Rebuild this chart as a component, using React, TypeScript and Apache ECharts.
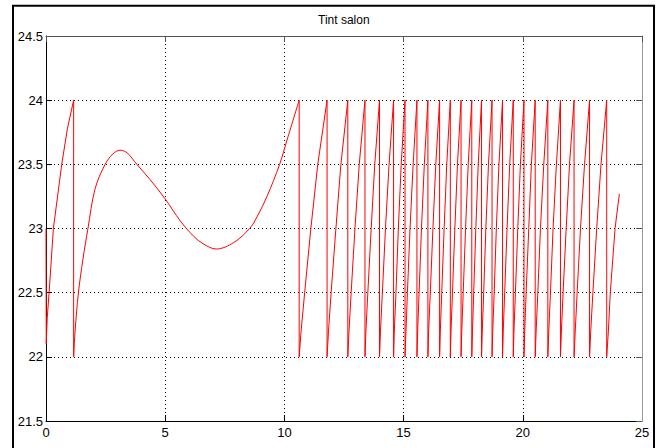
import React, { useEffect, useRef } from "react";
import * as echarts from "echarts";

// Title and tick values
const chartTitle = "Tint salon";
const xTicks = { min: 0, max: 25, step: 5 };
const yTicks = { min: 21.5, max: 24.5, step: 0.5 };

// Phase 1: first heating ramp
const phase1Time = [0, 0.01, 0.05, 0.13, 0.31, 0.66, 0.9, 1.16];
const phase1Tint = [23.0, 22.1, 22.3, 22.5, 23.0, 23.5, 23.78, 24.0];

// Phase 2: free evolution curve
const phase2Time = [1.16, 1.22, 1.36, 1.55, 1.76, 2.06, 2.48, 2.8, 3.1, 3.4, 3.81, 4.37, 5.0, 5.63, 6.19, 6.6, 7.14, 7.87, 8.54, 8.85, 9.27, 9.8, 10.11, 10.62];
const phase2Tint = [22.0, 22.2, 22.5, 22.76, 23.0, 23.31, 23.5, 23.58, 23.61, 23.59, 23.5, 23.38, 23.23, 23.06, 22.94, 22.88, 22.84, 22.89, 23.0, 23.09, 23.25, 23.5, 23.69, 24.0];

// Phase 3: sawtooth cycles; each row = times at which the ramp reaches the levels below
const rampLevels = [22, 22.2, 22.5, 23, 23.5, 24];
const sawCycles = [
  [10.62, 10.7, 10.85, 11.11, 11.4, 11.79],
  [11.79, 11.85, 11.96, 12.16, 12.37, 12.66],
  [12.66, 12.71, 12.8, 12.96, 13.14, 13.38],
  [13.38, 13.42, 13.5, 13.64, 13.79, 13.99],
  [13.99, 14.03, 14.11, 14.24, 14.39, 14.58],
  [14.58, 14.61, 14.68, 14.78, 14.9, 15.06],
  [15.06, 15.1, 15.16, 15.27, 15.4, 15.56],
  [15.56, 15.59, 15.65, 15.75, 15.87, 16.02],
  [16.02, 16.05, 16.12, 16.23, 16.35, 16.51],
  [16.51, 16.54, 16.6, 16.7, 16.81, 16.96],
  [16.96, 16.99, 17.05, 17.15, 17.26, 17.41],
  [17.41, 17.44, 17.5, 17.6, 17.71, 17.86],
  [17.86, 17.89, 17.94, 18.03, 18.13, 18.27],
  [18.27, 18.3, 18.36, 18.45, 18.56, 18.71],
  [18.71, 18.74, 18.8, 18.89, 19.0, 19.15],
  [19.15, 19.18, 19.24, 19.34, 19.45, 19.6],
  [19.6, 19.63, 19.69, 19.79, 19.9, 20.05],
  [20.05, 20.08, 20.14, 20.25, 20.36, 20.52],
  [20.52, 20.56, 20.63, 20.74, 20.88, 21.05],
  [21.05, 21.09, 21.16, 21.27, 21.41, 21.58],
  [21.58, 21.62, 21.69, 21.82, 21.96, 22.15],
  [22.15, 22.2, 22.28, 22.42, 22.59, 22.8],
  [22.8, 22.85, 22.94, 23.1, 23.28, 23.52],
];

// Phase 4: last, unfinished ramp
const phase4Time = [23.52, 23.59, 23.67, 23.87, 24.05];
const phase4Tint = [22.0, 22.2, 22.5, 23.0, 23.27];

const FONT = "'Liberation Sans', Arial, sans-serif";

function phase1Data(): number[][] {
  const pts: number[][] = phase1Time.map((t, i) => [t, phase1Tint[i]]);
  // drop to the start of phase 2
  pts.push([phase2Time[0], phase2Tint[0]]);
  return pts;
}

function phase2Data(): number[][] {
  return phase2Time.map((t, i) => [t, phase2Tint[i]]);
}

function sawData(): number[][] {
  const last = phase2Time.length - 1;
  const pts: number[][] = [[phase2Time[last], phase2Tint[last]]];
  sawCycles.forEach((row) => row.forEach((t, i) => pts.push([t, rampLevels[i]])));
  phase4Time.forEach((t, i) => pts.push([t, phase4Tint[i]]));
  return pts;
}

export default function App() {
  const ref = useRef<HTMLDivElement>(null);
  useEffect(() => {
    if (!ref.current) return;
    const chart = echarts.init(ref.current, null, { renderer: "svg" });
    const dotted = { color: "#000", width: 1, type: [1, 3] as any };
    const lineStyle = { color: "#ff0000", width: 1 };
    chart.setOption({
      animation: false,
      backgroundColor: "#fff",
      title: {
        text: chartTitle,
        left: 318,
        top: 14,
        padding: 0,
        textStyle: { fontFamily: FONT, fontSize: 12, fontWeight: "normal", color: "#000" },
      },
      grid: { left: 46, right: 15, top: 36, bottom: 27, containLabel: false },
      xAxis: [
        {
          type: "value",
          min: xTicks.min,
          max: xTicks.max,
          interval: xTicks.step,
          position: "bottom",
          axisLine: { show: true, lineStyle: { color: "#000", width: 1 } },
          axisTick: { show: true, inside: true, length: 6, lineStyle: { color: "#000" } },
          axisLabel: { color: "#000", fontFamily: FONT, fontSize: 13, margin: 5 },
          splitLine: { show: true, lineStyle: dotted },
        },
        {
          type: "value",
          min: xTicks.min,
          max: xTicks.max,
          interval: xTicks.step,
          position: "top",
          z: 3,
          axisLine: { show: true, onZero: false, lineStyle: { color: "#555", width: 1 } },
          axisTick: { show: true, inside: true, length: 6, lineStyle: { color: "#555" } },
          axisLabel: { show: false },
          splitLine: { show: false },
        },
      ],
      yAxis: [
        {
          type: "value",
          min: yTicks.min,
          max: yTicks.max,
          interval: yTicks.step,
          position: "left",
          axisLine: { show: true, lineStyle: { color: "#000", width: 1 } },
          axisTick: { show: true, inside: true, length: 6, lineStyle: { color: "#000" } },
          axisLabel: { color: "#000", fontFamily: FONT, fontSize: 13, margin: 3 },
          splitLine: { show: true, lineStyle: dotted },
        },
        {
          type: "value",
          min: yTicks.min,
          max: yTicks.max,
          interval: yTicks.step,
          position: "right",
          z: 3,
          axisLine: { show: true, onZero: false, lineStyle: { color: "#999", width: 1 } },
          axisTick: { show: true, inside: true, length: 6, lineStyle: { color: "#555" } },
          axisLabel: { show: false },
          splitLine: { show: false },
        },
      ],
      series: [
        {
          type: "line",
          data: phase1Data(),
          showSymbol: false,
          symbol: "none",
          silent: true,
          lineStyle,
          z: 2,
        },
        {
          type: "line",
          data: phase2Data(),
          showSymbol: false,
          symbol: "none",
          silent: true,
          smooth: 0.35,
          lineStyle,
          z: 2,
        },
        {
          type: "line",
          data: sawData(),
          showSymbol: false,
          symbol: "none",
          silent: true,
          lineStyle,
          z: 2,
        },
      ],
      graphic: [
        {
          type: "rect",
          z: 100,
          shape: { x: 13, y: 5.7, width: 641, height: 500 },
          style: { fill: "none", stroke: "#000", lineWidth: 2 },
          silent: true,
        },
      ],
    });
    return () => chart.dispose();
  }, []);
  return (
    <div
      ref={ref}
      style={{ position: "fixed", left: 0, top: 0, width: 657, height: 448 }}
    />
  );
}
